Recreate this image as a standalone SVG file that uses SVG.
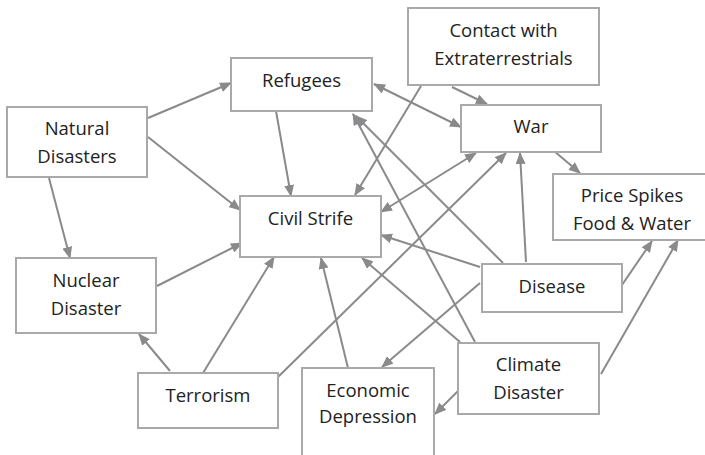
<svg xmlns="http://www.w3.org/2000/svg" width="705" height="455" viewBox="0 0 705 455">
  <defs>
    <style>
      .box { fill: #ffffff; stroke: #a9a9a9; stroke-width: 2; }
      .lbl { font-family: "Open Sans", "Noto Sans", "DejaVu Sans", sans-serif; font-size: 18.5px; fill: #222222; text-anchor: middle; }
      .edge { stroke: #8a8a8c; stroke-width: 2; fill: none; marker-end: url(#head); }
      .both { marker-start: url(#head); }
    </style>
    <marker id="head" viewBox="0 0 12 10" markerUnits="userSpaceOnUse" markerWidth="12" markerHeight="10" refX="11" refY="5" orient="auto-start-reverse">
      <path d="M0,0 L12,5 L0,10 Z" fill="#8a8a8c"/>
    </marker>
  </defs>

  <rect width="705" height="455" fill="#ffffff"/>

  <g id="connectors">
    <!-- Natural Disasters -->
    <line class="edge" x1="148" y1="118" x2="231" y2="83"/>
    <line class="edge" x1="148" y1="137" x2="240" y2="210"/>
    <line class="edge" x1="49" y1="178" x2="70" y2="258"/>
    <!-- Refugees -->
    <line class="edge" x1="276" y1="111" x2="291" y2="196"/>
    <line class="edge both" x1="374" y1="84" x2="461" y2="127"/>
    <!-- Contact with Extraterrestrials -->
    <line class="edge" x1="452" y1="87" x2="487" y2="104"/>
    <line class="edge" x1="421" y1="86" x2="355" y2="195"/>
    <!-- War -->
    <line class="edge both" x1="381" y1="212" x2="476" y2="153"/>
    <line class="edge" x1="554" y1="151" x2="580" y2="173"/>
    <!-- Terrorism -->
    <line class="edge" x1="278" y1="377" x2="506" y2="153"/>
    <line class="edge" x1="203" y1="373" x2="274" y2="257"/>
    <line class="edge" x1="170" y1="371" x2="139" y2="334"/>
    <!-- Nuclear Disaster -->
    <line class="edge" x1="157" y1="286" x2="242" y2="243"/>
    <!-- Disease -->
    <line class="edge" x1="526" y1="262" x2="520" y2="153"/>
    <line class="edge" x1="503" y1="263" x2="356" y2="116"/>
    <line class="edge" x1="480" y1="267" x2="381" y2="235"/>
    <line class="edge" x1="480" y1="283" x2="382" y2="367"/>
    <line class="edge" x1="622" y1="285" x2="652" y2="241"/>
    <!-- Climate Disaster -->
    <line class="edge" x1="475" y1="342" x2="353" y2="114"/>
    <line class="edge" x1="460" y1="342" x2="362" y2="258"/>
    <line class="edge" x1="601" y1="374" x2="678" y2="240"/>
    <line class="edge" x1="458" y1="391" x2="435" y2="414"/>
    <!-- Economic Depression -->
    <line class="edge" x1="348" y1="368" x2="321" y2="258"/>
  </g>

  <g id="natural-disasters">
    <rect class="box" x="7" y="107" width="140" height="70"/>
    <text class="lbl" x="77" y="135">Natural</text>
    <text class="lbl" x="77" y="163">Disasters</text>
  </g>
  <g id="refugees">
    <rect class="box" x="231" y="58" width="141" height="53"/>
    <text class="lbl" x="301.5" y="87">Refugees</text>
  </g>
  <g id="civil-strife">
    <rect class="box" x="240" y="196" width="141" height="61"/>
    <text class="lbl" x="310.5" y="225">Civil Strife</text>
  </g>
  <g id="contact-extraterrestrials">
    <rect class="box" x="408" y="8" width="191" height="77"/>
    <text class="lbl" x="503.5" y="37">Contact with</text>
    <text class="lbl" x="503.5" y="65">Extraterrestrials</text>
  </g>
  <g id="war">
    <rect class="box" x="461" y="105" width="140" height="47"/>
    <text class="lbl" x="531" y="133">War</text>
  </g>
  <g id="price-spikes">
    <rect class="box" x="553" y="174" width="160" height="66"/>
    <text class="lbl" x="632" y="202">Price Spikes</text>
    <text class="lbl" x="632" y="230">Food &amp; Water</text>
  </g>
  <g id="nuclear-disaster">
    <rect class="box" x="16" y="258" width="140" height="75"/>
    <text class="lbl" x="86" y="287">Nuclear</text>
    <text class="lbl" x="86" y="315">Disaster</text>
  </g>
  <g id="terrorism">
    <rect class="box" x="138" y="373" width="140" height="55"/>
    <text class="lbl" x="208" y="402">Terrorism</text>
  </g>
  <g id="economic-depression">
    <rect class="box" x="302" y="368" width="132" height="100"/>
    <text class="lbl" x="368" y="397">Economic</text>
    <text class="lbl" x="368" y="423">Depression</text>
  </g>
  <g id="disease">
    <rect class="box" x="482" y="264" width="140" height="48"/>
    <text class="lbl" x="552" y="293">Disease</text>
  </g>
  <g id="climate-disaster">
    <rect class="box" x="458" y="343" width="141" height="71"/>
    <text class="lbl" x="528.5" y="371">Climate</text>
    <text class="lbl" x="528.5" y="399">Disaster</text>
  </g>
</svg>
